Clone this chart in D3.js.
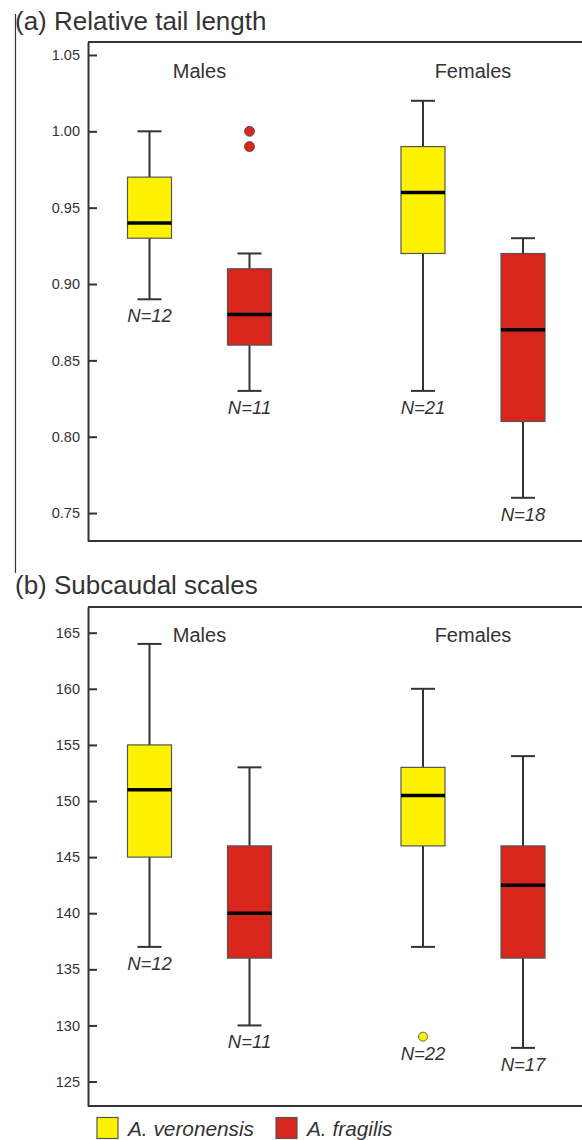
<!DOCTYPE html>
<html>
<head>
<meta charset="utf-8">
<script src="https://cdn.jsdelivr.net/npm/d3@7"></script>
<style>
html,body{margin:0;padding:0;background:#fff;}
svg{display:block;font-family:Arial,"Liberation Sans",Helvetica,sans-serif;}
</style>
</head>
<body>
<svg id="chart" width="582" height="1140"></svg>
<script>
// ---- data ----
const groups = ["Males", "Females"];
const species = ["A. veronensis", "A. fragilis"];
const speciesColors = ["#FFF200", "#D8261D"];

// panel (a) relative tail length: [min, q1, median, q3, max] per group
const tailVeronensis = [[0.89, 0.93, 0.94, 0.97, 1.00], [0.83, 0.92, 0.96, 0.99, 1.02]];
const tailFragilis   = [[0.83, 0.86, 0.88, 0.91, 0.92], [0.76, 0.81, 0.87, 0.92, 0.93]];
const tailNVeronensis = [12, 21];
const tailNFragilis   = [11, 18];
const tailOutVeronensis = [[], []];
const tailOutFragilis   = [[1.00, 0.99], []];
const tailTicks = [0.75, 0.80, 0.85, 0.90, 0.95, 1.00, 1.05];

// panel (b) subcaudal scales
const subVeronensis = [[137, 145, 151, 155, 164], [137, 146, 150.5, 153, 160]];
const subFragilis   = [[130, 136, 140, 146, 153], [128, 136, 142.5, 146, 154]];
const subNVeronensis = [12, 22];
const subNFragilis   = [11, 17];
const subOutVeronensis = [[], [129]];
const subOutFragilis   = [[], []];
const subTicks = [125, 130, 135, 140, 145, 150, 155, 160, 165];

// ---- layout ----
const svg = d3.select("#chart");
const frameLeft = 88, frameRight = 600;
const ink = "#333";

const x0 = d3.scaleBand().domain(groups).range([62.75, 609.75]);
const x1 = d3.scalePoint().domain(species).range([-50, 50]);
const cx = (g, s) => x0(g) + x0.bandwidth() / 2 + x1(s);
const boxW = 44, capW = 24;

function buildRows(ver, fra, nv, nf, ov, of) {
  const rows = [];
  groups.forEach((g, gi) => {
    rows.push({g, s: species[0], c: speciesColors[0], st: ver[gi], n: nv[gi], out: ov[gi]});
    rows.push({g, s: species[1], c: speciesColors[1], st: fra[gi], n: nf[gi], out: of[gi]});
  });
  return rows;
}

function panel(cfg) {
  const y = d3.scaleLinear().domain(cfg.domain).range([cfg.bottom, cfg.top]);
  const g = svg.append("g");

  // title
  g.append("text").attr("x", 15).attr("y", cfg.titleY)
    .attr("font-size", 26).attr("fill", ink).text(cfg.title);

  // frame top/bottom
  g.append("line").attr("x1", frameLeft).attr("x2", frameRight)
    .attr("y1", cfg.top).attr("y2", cfg.top).attr("stroke", ink).attr("stroke-width", 2);
  g.append("line").attr("x1", frameLeft).attr("x2", frameRight)
    .attr("y1", cfg.bottom).attr("y2", cfg.bottom).attr("stroke", ink).attr("stroke-width", 2);

  // axis
  const axis = d3.axisLeft(y).tickValues(cfg.ticks).tickFormat(cfg.fmt)
    .tickSizeInner(-9).tickSizeOuter(0).tickPadding(8);
  const ax = g.append("g").attr("transform", `translate(${frameLeft},0)`).call(axis);
  ax.select(".domain").attr("stroke", ink).attr("stroke-width", 2);
  ax.selectAll(".tick line").attr("stroke", ink).attr("stroke-width", 2);
  ax.selectAll(".tick text").attr("font-size", 14.5).attr("fill", ink)
    .attr("font-family", "Arial, 'Liberation Sans', sans-serif");

  // group labels
  groups.forEach(gr => {
    g.append("text").attr("x", x0(gr) + x0.bandwidth() / 2).attr("y", cfg.groupY)
      .attr("text-anchor", "middle").attr("font-size", 20).attr("fill", ink).text(gr);
  });

  // boxes
  const rows = cfg.rows;
  const bx = g.selectAll("g.box").data(rows).join("g").attr("class", "box");
  bx.append("line").attr("x1", d => cx(d.g, d.s)).attr("x2", d => cx(d.g, d.s))
    .attr("y1", d => y(d.st[0])).attr("y2", d => y(d.st[4]))
    .attr("stroke", ink).attr("stroke-width", 2);
  bx.append("line").attr("x1", d => cx(d.g, d.s) - capW / 2).attr("x2", d => cx(d.g, d.s) + capW / 2)
    .attr("y1", d => y(d.st[0])).attr("y2", d => y(d.st[0]))
    .attr("stroke", ink).attr("stroke-width", 2);
  bx.append("line").attr("x1", d => cx(d.g, d.s) - capW / 2).attr("x2", d => cx(d.g, d.s) + capW / 2)
    .attr("y1", d => y(d.st[4])).attr("y2", d => y(d.st[4]))
    .attr("stroke", ink).attr("stroke-width", 2);
  bx.append("rect").attr("x", d => cx(d.g, d.s) - boxW / 2).attr("width", boxW)
    .attr("y", d => y(d.st[3])).attr("height", d => y(d.st[1]) - y(d.st[3]))
    .attr("fill", d => d.c).attr("stroke", "#555").attr("stroke-width", 1.2);
  bx.append("line").attr("x1", d => cx(d.g, d.s) - boxW / 2).attr("x2", d => cx(d.g, d.s) + boxW / 2)
    .attr("y1", d => y(d.st[2])).attr("y2", d => y(d.st[2]))
    .attr("stroke", "#000").attr("stroke-width", 3.5);
  bx.each(function(d) {
    d3.select(this).selectAll("circle").data(d.out).join("circle")
      .attr("cx", cx(d.g, d.s)).attr("cy", v => y(v)).attr("r", cfg.outR)
      .attr("fill", d.c).attr("stroke", "#444").attr("stroke-width", 0.8);
  });
  bx.append("text").attr("x", d => cx(d.g, d.s))
    .attr("y", d => y(Math.min(d.st[0], ...d.out)) + 23)
    .attr("text-anchor", "middle").attr("font-size", 18.5).attr("font-style", "italic")
    .attr("fill", ink).text(d => "N=" + d.n);
}

// stray left rule
svg.append("line").attr("x1", 15.5).attr("x2", 15.5).attr("y1", 14).attr("y2", 573)
  .attr("stroke", ink).attr("stroke-width", 1.2);

panel({
  title: "(a) Relative tail length", titleY: 30,
  top: 42, bottom: 541, domain: [0.7317, 1.0585],
  ticks: tailTicks, fmt: d3.format(".2f"), groupY: 78, outR: 5,
  rows: buildRows(tailVeronensis, tailFragilis, tailNVeronensis, tailNFragilis, tailOutVeronensis, tailOutFragilis)
});
panel({
  title: "(b) Subcaudal scales", titleY: 594,
  top: 607, bottom: 1106, domain: [122.82, 167.29],
  ticks: subTicks, fmt: d3.format("d"), groupY: 642, outR: 4.5,
  rows: buildRows(subVeronensis, subFragilis, subNVeronensis, subNFragilis, subOutVeronensis, subOutFragilis)
});

// legend
const leg = svg.append("g");
const legX = [97, 276];
species.forEach((s, i) => {
  leg.append("rect").attr("x", legX[i]).attr("y", 1117.5).attr("width", 21).attr("height", 21)
    .attr("fill", speciesColors[i]).attr("stroke", "#555").attr("stroke-width", 1.2);
  leg.append("text").attr("x", legX[i] + 31).attr("y", 1135.5).attr("font-size", 20.8)
    .attr("font-style", "italic").attr("fill", ink).text(s);
});
</script>
</body>
</html>
